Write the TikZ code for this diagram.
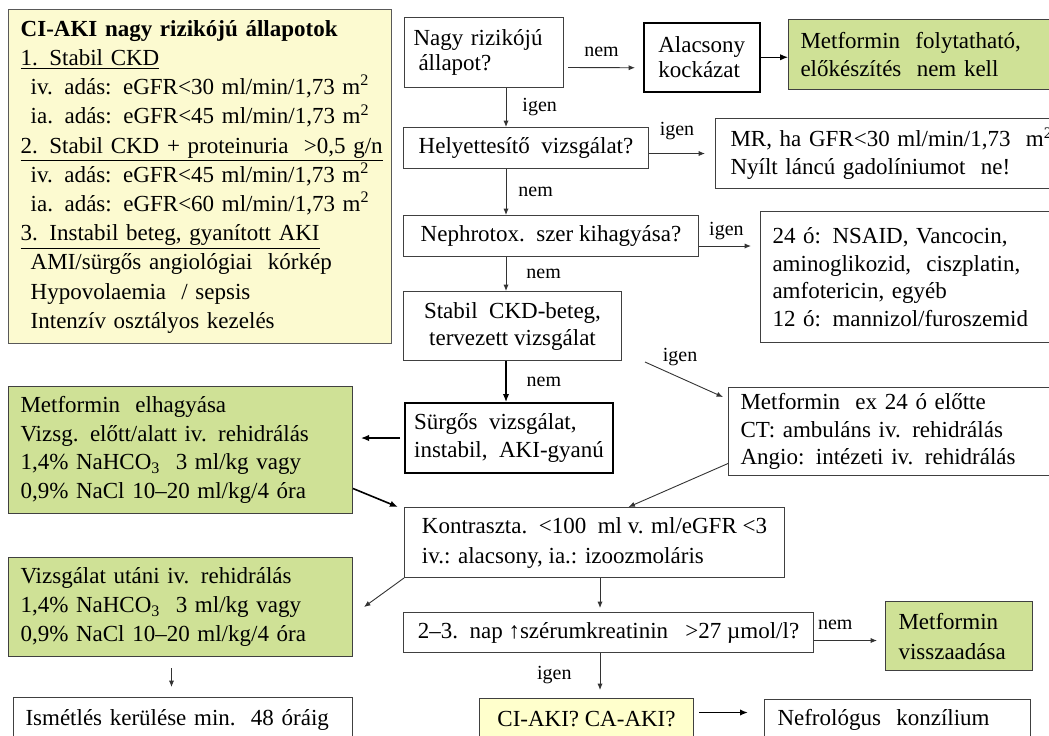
\documentclass[tikz,border=0pt]{standalone}
\usepackage{fontspec}
\setmainfont{Liberation Serif}
\usetikzlibrary{arrows.meta}

\definecolor{boxgreen}{RGB}{207,225,150}
\definecolor{boxyellow}{RGB}{252,250,208}
\definecolor{ciyellow}{RGB}{255,255,204}

\begin{document}
\begin{tikzpicture}[x=0.5pt,y=-0.5pt,
    flowbox/.style={draw=black!75, line width=0.5pt, anchor=north west, inner xsep=6pt, inner ysep=0pt, align=left, font=\fontsize{11.5}{14}\selectfont},
    greenbox/.style={flowbox, fill=boxgreen},
    lbl/.style={inner sep=0pt, font=\fontsize{10}{12}\selectfont},
    conn/.style={-{Latex[length=3.2pt,width=2.6pt]}, draw=black!80, line width=0.45pt},
    thickconn/.style={-{Latex[length=4pt,width=3.2pt]}, draw=black, line width=0.8pt}]
    \useasboundingbox (0,0) rectangle (1049,735);
    \clip (0,0) rectangle (1049,735);

    %left column
    \node[flowbox, fill=boxyellow, draw=black!65, line width=0.7pt, text width=179.5pt, minimum height=167pt, font=\fontsize{11.5}{14.6}\selectfont] (risk) at (8,9)
      {\textbf{CI-AKI nagy rizikójú állapotok}\\
       \underline{1. Stabil CKD}\\
       \mbox{\hspace*{5pt}iv. adás: eGFR<30 ml/min/1,73 m\textsuperscript{2}}\\
       \mbox{\hspace*{5pt}ia. adás: eGFR<45 ml/min/1,73 m\textsuperscript{2}}\\
       \underline{2. Stabil CKD + proteinuria\ \ >0,5 g/n}\\
       \mbox{\hspace*{5pt}iv. adás: eGFR<45 ml/min/1,73 m\textsuperscript{2}}\\
       \mbox{\hspace*{5pt}ia. adás: eGFR<60 ml/min/1,73 m\textsuperscript{2}}\\
       \underline{3. Instabil beteg, gyanított AKI}\\
       \hspace*{5pt}AMI/sürgős angiológiai\ \ kórkép\\
       \hspace*{5pt}Hypovolaemia\ \ / sepsis\\
       \hspace*{5pt}Intenzív osztályos kezelés};
    \node[greenbox, text width=160pt, minimum height=63.5pt, font=\fontsize{11.5}{14.3}\selectfont] (elhagy) at (8,386)
      {Metformin\ \ elhagyása\\
       Vizsg. előtt/alatt iv. rehidrálás\\
       1,4\% NaHCO\textsubscript{3}\ \ 3 ml/kg vagy\\
       0,9\% NaCl 10–20 ml/kg/4 óra};
    \node[greenbox, text width=160pt, minimum height=49.5pt, font=\fontsize{11.5}{14.6}\selectfont] (utani) at (8,557)
      {Vizsgálat utáni iv. rehidrálás\\
       1,4\% NaHCO\textsubscript{3}\ \ 3 ml/kg vagy\\
       0,9\% NaCl 10–20 ml/kg/4 óra};
    \node[flowbox, text width=157.5pt, minimum height=22pt] (ismet) at (13,697) {Ismétlés kerülése min.\ \ 48 óráig};

    %middle column
    \node[flowbox, text width=70.5pt, inner xsep=4.5pt, minimum height=35pt, font=\fontsize{11.5}{12.5}\selectfont] (nagy) at (404,17) {Nagy rizikójú\\ \hspace*{2.5pt}állapot?};
    \node[flowbox, align=center, minimum width=122.5pt, minimum height=20.5pt] (helyet) at (403,127) {Helyettesítő\ \ vizsgálat?};
    \node[flowbox, align=center, minimum width=147.5pt, minimum height=20.5pt] (nephro) at (403,215) {Nephrotox.\ \ szer kihagyása?};
    \node[flowbox, align=center, minimum width=109pt, minimum height=34.5pt, font=\fontsize{11.5}{13.5}\selectfont] (stabil) at (403,291) {Stabil\ \ CKD-beteg,\\ tervezett vizsgálat};
    \node[flowbox, draw=black, line width=1pt, inner xsep=2pt, minimum width=104pt, minimum height=35pt] (surgos) at (404,402) {Sürgős\ \ vizsgálat,\\ instabil,\ \ AKI-gyanú};
    \node[flowbox, inner xsep=3pt, minimum width=190pt, minimum height=35pt, font=\fontsize{11.5}{15}\selectfont] (kontr) at (404,507) {Kontraszta.\ \ <100\ \ ml v. ml/eGFR <3\\ iv.: alacsony, ia.: izoozmoláris};
    \node[flowbox, align=center, minimum width=205pt, minimum height=20pt] (nap) at (403,612) {2–3.\ \ nap ↑szérumkreatinin\ \ \ >27\ µmol/l?};
    \node[flowbox, fill=ciyellow, align=center, minimum width=107pt, minimum height=21pt] (ciaki) at (479,698) {CI-AKI? CA-AKI?};

    %right column
    \node[flowbox, draw=black, line width=0.75pt, inner xsep=7pt, minimum width=58pt, minimum height=34.5pt, font=\fontsize{11.5}{12.5}\selectfont] (alacs) at (643,22) {Alacsony\\kockázat};
    \node[greenbox, text width=136pt, minimum height=35pt] (folyt) at (788,19) {Metformin\ \ folytatható,\\ előkészítés\ \ nem kell};
    \node[flowbox, text width=185pt, inner xsep=7.5pt, minimum height=35pt] (mr) at (715,118) {MR, ha GFR<30 ml/min/1,73\ \ m\textsuperscript{2}\\ Nyílt láncú gadolíniumot\ \ ne!};
    \node[flowbox, text width=148pt, minimum height=65.5pt, font=\fontsize{11.5}{13.75}\selectfont] (tox) at (760,211) {24 ó: NSAID, Vancocin,\\ aminoglikozid,\ \ ciszplatin,\\ amfotericin, egyéb\\ 12 ó: mannizol/furoszemid};
    \node[flowbox, text width=158pt, minimum height=44pt, font=\fontsize{11.5}{13.75}\selectfont] (mex) at (728,387) {Metformin\ \ ex 24 ó előtte\\ CT: ambuláns iv. rehidrálás\\ Angio: intézeti iv. rehidrálás};
    \node[greenbox, text width=60.5pt, inner xsep=6.5pt, minimum height=34.5pt, font=\fontsize{11.5}{15}\selectfont] (back) at (885,601) {Metformin\\ visszaadása};
    \node[flowbox, text width=120pt, inner xsep=6.5pt, minimum height=20pt] (nefro) at (764,699) {Nefrológus\ \ konzílium};

    %arrows
    \coordinate (spine) at (506,0);
    \coordinate (spineb) at (600,0);
    \coordinate (igenstart) at (645,362);
    \draw[conn] ([xshift=2pt,yshift=-7.5pt]nagy.east) -- ([xshift=-4pt,yshift=-5.25pt]alacs.west) node[lbl, midway, above=5pt] (l1) {nem};
    \draw[thickconn, line width=0.6pt] (alacs.east) -- (alacs.east -| folyt.west);
    \draw[conn] (nagy.south -| spine) -- (helyet.north -| spine) node[lbl, midway, right=8pt] (l2) {igen};
    \draw[conn] (helyet.east |- mr.west) -- ([xshift=-5pt]mr.west) node[lbl, midway, above=6.5pt] (l3) {igen};
    \draw[conn] (helyet.south -| spine) -- (nephro.north -| spine) node[lbl, midway, right=6pt] (l4) {nem};
    \draw[conn, shorten >=4.5pt] ([yshift=-5pt]nephro.east) -- ([yshift=-5pt]nephro.east -| tox.west) node[lbl, pos=0.45, above=3pt] (l5) {igen};
    \draw[conn] (nephro.south -| spine) -- (stabil.north -| spine) node[lbl, midway, right=10pt] (l6) {nem};
    \draw[thickconn, line width=0.65pt] (stabil.south -| spine) -- (surgos.north -| spine) node[lbl, midway, right=10pt] (l7) {nem};
    \draw[conn] (igenstart) -- ([xshift=-2.5pt,yshift=-5pt]mex.north west) node[lbl, pos=0.45, above=5.5pt] (l8) {igen};
    \draw[conn] ([yshift=-16pt]mex.west) -- ([xshift=17pt]kontr.north);
    \draw[thickconn, line width=0.65pt, shorten <=2pt, shorten >=4pt] (surgos.west) -- (surgos.west -| elhagy.east);
    \draw[thickconn] ([yshift=-19.25pt]elhagy.east) -- ([xshift=-3pt]kontr.north west);
    \draw[conn] (kontr.south west) -- ([xshift=5.5pt]utani.east);
    \draw[conn, shorten >=2pt] (kontr.south -| spineb) -- (nap.north -| spineb);
    \draw[conn, shorten >=4pt] ([yshift=-4pt]nap.east) -- ([yshift=-4pt]nap.east -| back.west) node[lbl, pos=0.3, above=5.25pt] (l9) {nem};
    \draw[conn, shorten >=4pt] (nap.south -| spineb) -- (ciaki.north -| spineb) node[lbl, midway, left=14pt] (l10) {igen};
    \draw[thickconn, shorten <=2.5pt, shorten >=8pt] ([yshift=3.5pt]ciaki.east) -- ([yshift=3.5pt]ciaki.east -| nefro.west);
    \draw[conn, shorten <=5.5pt, shorten >=5pt] ([xshift=-4.5pt]utani.south) -- ([xshift=-4.5pt]utani.south |- ismet.north);
\end{tikzpicture}
\end{document}
